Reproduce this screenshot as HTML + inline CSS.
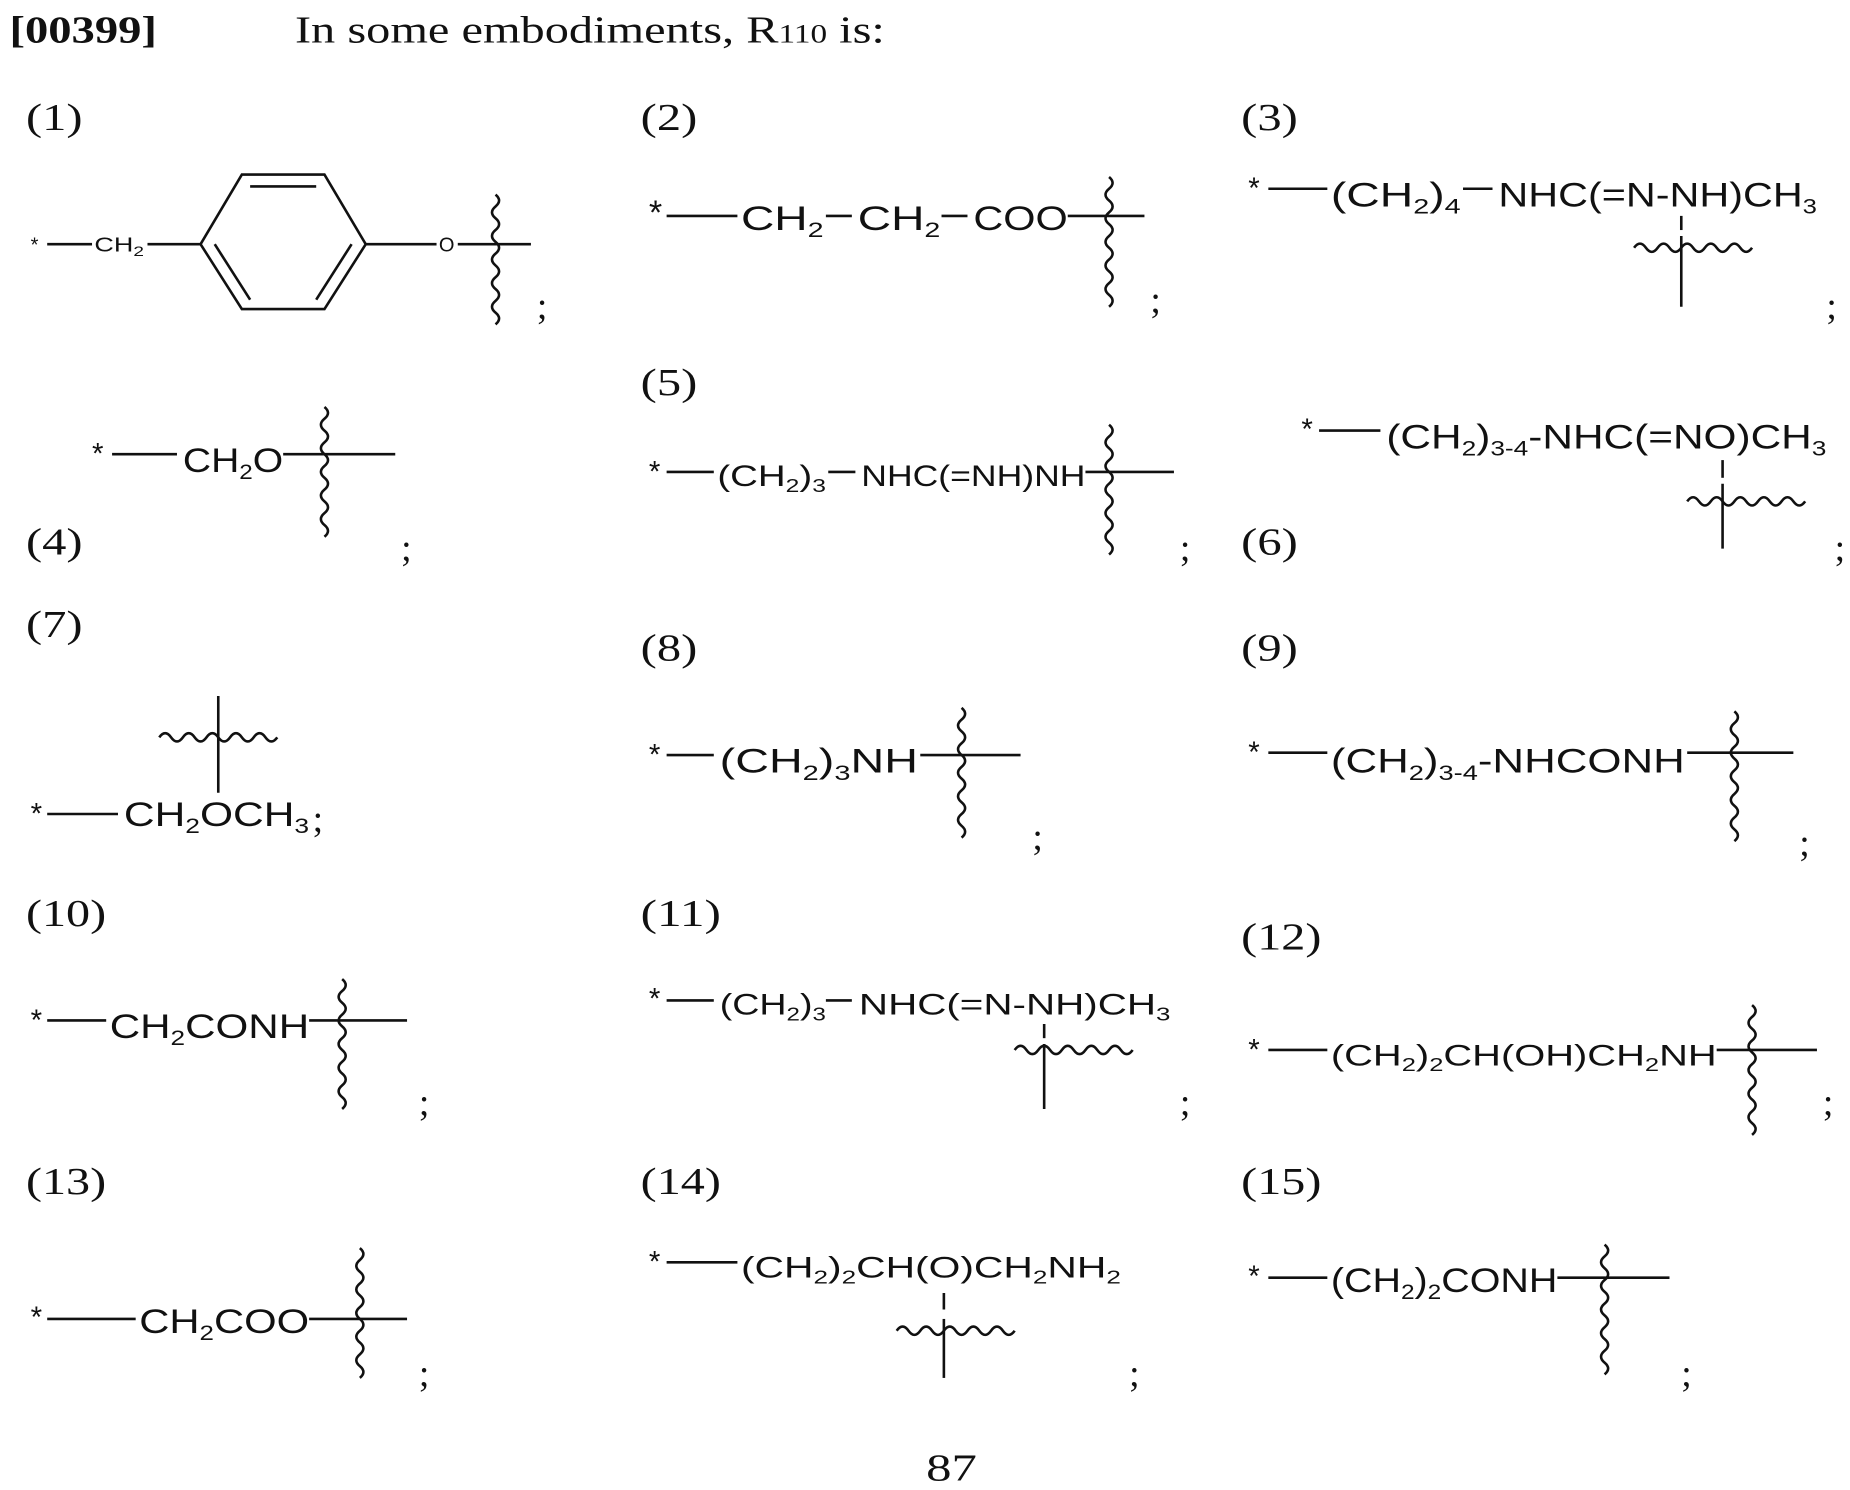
<!DOCTYPE html>
<html><head><meta charset="utf-8"><style>
html,body{margin:0;padding:0;background:#fff}
svg{display:block}
.s{font-family:"Liberation Serif",serif;font-size:32px;fill:#111}
.f{font-family:"Liberation Sans",sans-serif;font-size:29px;fill:#111}
.m{font-family:"Liberation Sans",sans-serif;font-size:25px;fill:#111}
.k{font-family:"Liberation Sans",sans-serif;font-size:17px;fill:#111}
line,path{stroke:#111;stroke-width:2.2;fill:none}
</style></head><body>
<svg width="1850" height="1490" viewBox="0 0 1568 1263" preserveAspectRatio="none" xmlns="http://www.w3.org/2000/svg">
<defs>
<path id="vs" d="M0,0 q6,5 0,10 q-6,5 0,10 q6,5 0,10 q-6,5 0,10 q6,5 0,10 q-6,5 0,10 q6,5 0,10 q-6,5 0,10 q6,5 0,10 q-6,5 0,10 q6,5 0,10"/>
<path id="hs" d="M0,0 q5,-7 10,0 q5,7 10,0 q5,-7 10,0 q5,7 10,0 q5,-7 10,0 q5,7 10,0 q5,-7 10,0 q5,7 10,0 q5,-7 10,0 q5,7 10,0"/>
</defs>
<text class="s" x="8" y="36" font-weight="bold" textLength="125" lengthAdjust="spacingAndGlyphs">[00399]</text>
<text class="s" x="250" y="36" textLength="500" lengthAdjust="spacingAndGlyphs">In some embodiments, R<tspan font-size="22">110</tspan> is:</text>

<!-- 1 -->
<text class="s" x="22" y="110" textLength="48" lengthAdjust="spacingAndGlyphs">(1)</text>
<text class="k" x="26" y="213">*</text><line x1="40" y1="207" x2="78" y2="207"/>
<text class="k" x="80" y="213" textLength="42" lengthAdjust="spacingAndGlyphs">CH<tspan font-size="12" dy="4">2</tspan></text>
<line x1="125" y1="207" x2="170" y2="207"/>
<path d="M170,207 L205,148 L275,148 L310,207 L275,262 L205,262 Z"/>
<line x1="212" y1="158" x2="268" y2="158"/><line x1="298" y1="207" x2="268" y2="254"/><line x1="182" y1="207" x2="212" y2="254"/>
<line x1="310" y1="207" x2="370" y2="207"/><text class="k" x="372" y="213">O</text>
<line x1="388" y1="207" x2="450" y2="207"/><use href="#vs" x="420" y="165"/>
<text class="s" x="455" y="270">;</text>

<!-- 2 -->
<text class="s" x="543" y="110" textLength="48" lengthAdjust="spacingAndGlyphs">(2)</text>
<text class="f" x="550" y="190">*</text><line x1="565" y1="183" x2="625" y2="183"/>
<text class="f" x="628" y="195" textLength="70" lengthAdjust="spacingAndGlyphs">CH<tspan font-size="18" dy="6">2</tspan></text>
<line x1="700" y1="183" x2="722" y2="183"/>
<text class="f" x="727" y="195" textLength="70" lengthAdjust="spacingAndGlyphs">CH<tspan font-size="18" dy="6">2</tspan></text>
<line x1="798" y1="183" x2="820" y2="183"/>
<text class="f" x="825" y="195" textLength="80" lengthAdjust="spacingAndGlyphs">COO</text>
<line x1="905" y1="183" x2="970" y2="183"/><use href="#vs" x="940" y="150"/>
<text class="s" x="975" y="265">;</text>

<!-- 3 -->
<text class="s" x="1052" y="110" textLength="48" lengthAdjust="spacingAndGlyphs">(3)</text>
<text class="m" x="1058" y="168">*</text><line x1="1075" y1="160" x2="1125" y2="160"/>
<text class="f" x="1128" y="175" textLength="110" lengthAdjust="spacingAndGlyphs">(CH<tspan font-size="18" dy="6">2</tspan><tspan dy="-6">)</tspan><tspan font-size="18" dy="6">4</tspan></text>
<line x1="1240" y1="160" x2="1265" y2="160"/>
<text class="f" x="1270" y="175" textLength="270" lengthAdjust="spacingAndGlyphs">NHC(=N-NH)CH<tspan font-size="18" dy="6">3</tspan></text>
<line x1="1425" y1="183" x2="1425" y2="195"/><use href="#hs" x="1385" y="210"/><line x1="1425" y1="200" x2="1425" y2="260"/>
<text class="s" x="1548" y="270">;</text>

<!-- 4 -->
<text class="m" x="78" y="393">*</text><line x1="95" y1="385" x2="150" y2="385"/>
<text class="f" x="155" y="400" textLength="85" lengthAdjust="spacingAndGlyphs">CH<tspan font-size="18" dy="6">2</tspan><tspan dy="-6">O</tspan></text>
<line x1="240" y1="385" x2="335" y2="385"/><use href="#vs" x="275" y="345"/>
<text class="s" x="22" y="470" textLength="48" lengthAdjust="spacingAndGlyphs">(4)</text><text class="s" x="340" y="475">;</text>

<!-- 5 -->
<text class="s" x="543" y="335" textLength="48" lengthAdjust="spacingAndGlyphs">(5)</text>
<text class="m" x="550" y="408">*</text><line x1="565" y1="400" x2="605" y2="400"/>
<text class="m" x="608" y="412" textLength="92" lengthAdjust="spacingAndGlyphs">(CH<tspan font-size="16" dy="5">2</tspan><tspan dy="-5">)</tspan><tspan font-size="16" dy="5">3</tspan></text>
<line x1="702" y1="400" x2="725" y2="400"/>
<text class="m" x="730" y="412" textLength="190" lengthAdjust="spacingAndGlyphs">NHC(=NH)NH</text>
<line x1="920" y1="400" x2="995" y2="400"/><use href="#vs" x="940" y="360"/>
<text class="s" x="1000" y="475">;</text>

<!-- 6 -->
<text class="m" x="1103" y="372">*</text><line x1="1118" y1="365" x2="1170" y2="365"/>
<text class="f" x="1175" y="380" textLength="373" lengthAdjust="spacingAndGlyphs">(CH<tspan font-size="18" dy="6">2</tspan><tspan dy="-6">)</tspan><tspan font-size="18" dy="6">3-4</tspan><tspan dy="-6">-NHC(=NO)CH</tspan><tspan font-size="18" dy="6">3</tspan></text>
<line x1="1460" y1="390" x2="1460" y2="405"/><use href="#hs" x="1430" y="425"/><line x1="1460" y1="410" x2="1460" y2="465"/>
<text class="s" x="1052" y="470" textLength="48" lengthAdjust="spacingAndGlyphs">(6)</text><text class="s" x="1555" y="475">;</text>

<!-- 7 -->
<text class="s" x="22" y="540" textLength="48" lengthAdjust="spacingAndGlyphs">(7)</text>
<use href="#hs" x="135" y="625"/><line x1="185" y1="590" x2="185" y2="672"/>
<text class="m" x="26" y="698">*</text><line x1="40" y1="690" x2="100" y2="690"/>
<text class="f" x="105" y="700" textLength="157" lengthAdjust="spacingAndGlyphs">CH<tspan font-size="18" dy="6">2</tspan><tspan dy="-6">OCH</tspan><tspan font-size="18" dy="6">3</tspan></text>
<text class="s" x="265" y="705">;</text>

<!-- 8 -->
<text class="s" x="543" y="560" textLength="48" lengthAdjust="spacingAndGlyphs">(8)</text>
<text class="m" x="550" y="648">*</text><line x1="565" y1="640" x2="605" y2="640"/>
<text class="f" x="610" y="655" textLength="168" lengthAdjust="spacingAndGlyphs">(CH<tspan font-size="18" dy="6">2</tspan><tspan dy="-6">)</tspan><tspan font-size="18" dy="6">3</tspan><tspan dy="-6">NH</tspan></text>
<line x1="780" y1="640" x2="865" y2="640"/><use href="#vs" x="815" y="600"/>
<text class="s" x="875" y="720">;</text>

<!-- 9 -->
<text class="s" x="1052" y="560" textLength="48" lengthAdjust="spacingAndGlyphs">(9)</text>
<text class="m" x="1058" y="646">*</text><line x1="1075" y1="638" x2="1125" y2="638"/>
<text class="f" x="1128" y="655" textLength="300" lengthAdjust="spacingAndGlyphs">(CH<tspan font-size="18" dy="6">2</tspan><tspan dy="-6">)</tspan><tspan font-size="18" dy="6">3-4</tspan><tspan dy="-6">-NHCONH</tspan></text>
<line x1="1430" y1="638" x2="1520" y2="638"/><use href="#vs" x="1470" y="603"/>
<text class="s" x="1525" y="725">;</text>

<!-- 10 -->
<text class="s" x="22" y="785" textLength="68" lengthAdjust="spacingAndGlyphs">(10)</text>
<text class="m" x="26" y="873">*</text><line x1="40" y1="865" x2="90" y2="865"/>
<text class="f" x="93" y="880" textLength="169" lengthAdjust="spacingAndGlyphs">CH<tspan font-size="18" dy="6">2</tspan><tspan dy="-6">CONH</tspan></text>
<line x1="262" y1="865" x2="345" y2="865"/><use href="#vs" x="290" y="830"/>
<text class="s" x="355" y="945">;</text>

<!-- 11 -->
<text class="s" x="543" y="785" textLength="68" lengthAdjust="spacingAndGlyphs">(11)</text>
<text class="m" x="550" y="855">*</text><line x1="565" y1="848" x2="605" y2="848"/>
<text class="m" x="610" y="860" textLength="90" lengthAdjust="spacingAndGlyphs">(CH<tspan font-size="16" dy="5">2</tspan><tspan dy="-5">)</tspan><tspan font-size="16" dy="5">3</tspan></text>
<line x1="700" y1="848" x2="722" y2="848"/>
<text class="m" x="728" y="860" textLength="264" lengthAdjust="spacingAndGlyphs">NHC(=N-NH)CH<tspan font-size="16" dy="5">3</tspan></text>
<line x1="885" y1="868" x2="885" y2="880"/><use href="#hs" x="860" y="890"/><line x1="885" y1="885" x2="885" y2="940"/>
<text class="s" x="1000" y="945">;</text>

<!-- 12 -->
<text class="s" x="1052" y="805" textLength="68" lengthAdjust="spacingAndGlyphs">(12)</text>
<text class="m" x="1058" y="898">*</text><line x1="1075" y1="890" x2="1125" y2="890"/>
<text class="m" x="1128" y="903" textLength="327" lengthAdjust="spacingAndGlyphs">(CH<tspan font-size="16" dy="5">2</tspan><tspan dy="-5">)</tspan><tspan font-size="16" dy="5">2</tspan><tspan dy="-5">CH(OH)CH</tspan><tspan font-size="16" dy="5">2</tspan><tspan dy="-5">NH</tspan></text>
<line x1="1455" y1="890" x2="1540" y2="890"/><use href="#vs" x="1485" y="852"/>
<text class="s" x="1545" y="945">;</text>

<!-- 13 -->
<text class="s" x="22" y="1012" textLength="68" lengthAdjust="spacingAndGlyphs">(13)</text>
<text class="m" x="26" y="1125">*</text><line x1="40" y1="1118" x2="115" y2="1118"/>
<text class="f" x="118" y="1130" textLength="144" lengthAdjust="spacingAndGlyphs">CH<tspan font-size="18" dy="6">2</tspan><tspan dy="-6">COO</tspan></text>
<line x1="262" y1="1118" x2="345" y2="1118"/><use href="#vs" x="305" y="1058"/>
<text class="s" x="355" y="1175">;</text>

<!-- 14 -->
<text class="s" x="543" y="1012" textLength="68" lengthAdjust="spacingAndGlyphs">(14)</text>
<text class="m" x="550" y="1078">*</text><line x1="565" y1="1070" x2="625" y2="1070"/>
<text class="m" x="628" y="1083" textLength="322" lengthAdjust="spacingAndGlyphs">(CH<tspan font-size="16" dy="5">2</tspan><tspan dy="-5">)</tspan><tspan font-size="16" dy="5">2</tspan><tspan dy="-5">CH(O)CH</tspan><tspan font-size="16" dy="5">2</tspan><tspan dy="-5">NH</tspan><tspan font-size="16" dy="5">2</tspan></text>
<line x1="800" y1="1096" x2="800" y2="1110"/><use href="#hs" x="760" y="1128"/><line x1="800" y1="1118" x2="800" y2="1168"/>
<text class="s" x="957" y="1175">;</text>

<!-- 15 -->
<text class="s" x="1052" y="1012" textLength="68" lengthAdjust="spacingAndGlyphs">(15)</text>
<text class="m" x="1058" y="1090">*</text><line x1="1075" y1="1083" x2="1125" y2="1083"/>
<text class="f" x="1128" y="1095" textLength="192" lengthAdjust="spacingAndGlyphs">(CH<tspan font-size="18" dy="6">2</tspan><tspan dy="-6">)</tspan><tspan font-size="18" dy="6">2</tspan><tspan dy="-6">CONH</tspan></text>
<line x1="1320" y1="1083" x2="1415" y2="1083"/><use href="#vs" x="1360" y="1055"/>
<text class="s" x="1425" y="1175">;</text>

<text class="s" x="785" y="1255" textLength="43" lengthAdjust="spacingAndGlyphs">87</text>
</svg>
</body></html>
